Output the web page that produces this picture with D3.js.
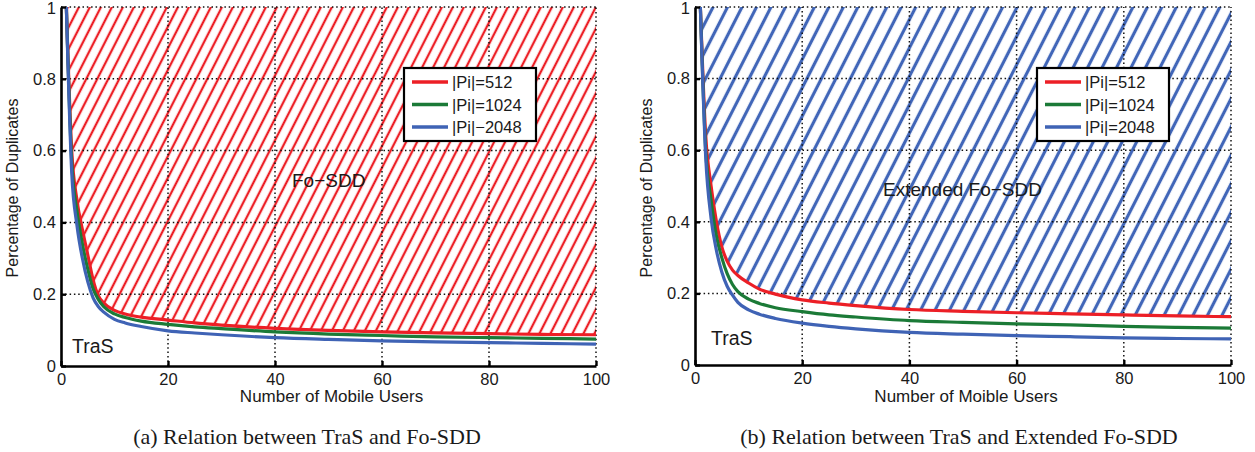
<!DOCTYPE html>
<html>
<head>
<meta charset="utf-8">
<script src="https://cdn.jsdelivr.net/npm/d3@7"></script>
<style>
body { margin: 0; background: #fff; }
text { font-family: "Liberation Sans", Arial, sans-serif; fill: #1a1a1a; }
.caption { font-family: "Liberation Serif", "Times New Roman", serif; }
</style>
</head>
<body>
<script>
// x positions (number of mobile users) where values were read
var users = [1, 2, 3, 4, 5, 6, 7, 8, 10, 12, 15, 20, 25, 30, 40, 50, 60, 70, 80, 90, 100];

// (a) TraS vs Fo-SDD
var aPi512  = [1, 0.60, 0.46, 0.38, 0.31, 0.24, 0.195, 0.175, 0.155, 0.145, 0.136, 0.128, 0.12, 0.114, 0.105, 0.099, 0.095, 0.092, 0.09, 0.088, 0.087];
var aPi1024 = [1, 0.57, 0.43, 0.34, 0.27, 0.215, 0.185, 0.165, 0.145, 0.135, 0.125, 0.116, 0.109, 0.104, 0.095, 0.089, 0.085, 0.081, 0.079, 0.077, 0.075];
var aPi2048 = [1, 0.54, 0.39, 0.30, 0.235, 0.19, 0.165, 0.15, 0.13, 0.12, 0.11, 0.098, 0.092, 0.087, 0.079, 0.074, 0.07, 0.067, 0.065, 0.063, 0.061];

// (b) TraS vs Extended Fo-SDD
var bPi512  = [1, 0.64, 0.50, 0.40, 0.33, 0.29, 0.265, 0.25, 0.229, 0.212, 0.198, 0.182, 0.173, 0.166, 0.155, 0.15, 0.146, 0.143, 0.14, 0.137, 0.135];
var bPi1024 = [1, 0.60, 0.46, 0.36, 0.30, 0.255, 0.225, 0.205, 0.184, 0.172, 0.16, 0.149, 0.14, 0.134, 0.124, 0.119, 0.115, 0.112, 0.108, 0.105, 0.103];
var bPi2048 = [1, 0.58, 0.41, 0.32, 0.26, 0.22, 0.195, 0.175, 0.154, 0.142, 0.13, 0.117, 0.108, 0.101, 0.091, 0.086, 0.082, 0.079, 0.076, 0.074, 0.073];

var legendA = ["|Pi|=512", "|Pi|=1024", "|Pi|\u22122048"];
var legendB = ["|Pi|=512", "|Pi|=1024", "|Pi|=2048"];
var xTicks = [0, 20, 40, 60, 80, 100];
var yTicks = [0, 0.2, 0.4, 0.6, 0.8, 1];

var colors = ["#ec1f26", "#1b7a37", "#3f63b5"];

var svg = d3.select("body").append("svg")
	.attr("width", 1255)
	.attr("height", 452);

var defs = svg.append("defs");

function makeHatch(id, color, spacing, width){
	var p = defs.append("pattern")
		.attr("id", id)
		.attr("patternUnits", "userSpaceOnUse")
		.attr("width", spacing)
		.attr("height", 20)
		.attr("patternTransform", "rotate(27)");
	p.append("line")
		.attr("x1", spacing / 2).attr("x2", spacing / 2)
		.attr("y1", -2).attr("y2", 22)
		.attr("stroke", color)
		.attr("stroke-width", width);
}
makeHatch("hatchRed", "#ec1f26", 9.8, 2.3);
makeHatch("hatchBlue", "#4166b8", 12.9, 3.2);

function drawPanel(o){
	var x = d3.scaleLinear().domain([0, 100]).range([o.left, o.right]);
	var y = d3.scaleLinear().domain([0, 1]).range([o.bottom, o.top]);
	var g = svg.append("g");

	// hatched region above the |Pi|=512 curve
	var area = d3.area()
		.x(function(d){ return x(d[0]); })
		.y0(y(1))
		.y1(function(d){ return y(d[1]); })
		.curve(d3.curveMonotoneX);
	g.append("path")
		.datum(users.map(function(u, i){ return [u, o.series[0][i]]; }))
		.attr("d", area)
		.attr("fill", "url(#" + o.hatch + ")");

	// dotted grid
	g.selectAll(".vgrid")
		.data(xTicks.slice(1))
		.enter().append("line")
		.attr("x1", function(d){ return x(d); })
		.attr("x2", function(d){ return x(d); })
		.attr("y1", y(0)).attr("y2", y(1))
		.attr("stroke", "#111")
		.attr("stroke-width", 1.5)
		.attr("stroke-dasharray", "1.5,2.8");
	g.selectAll(".hgrid")
		.data(yTicks.slice(1))
		.enter().append("line")
		.attr("x1", x(0)).attr("x2", x(100))
		.attr("y1", function(d){ return y(d); })
		.attr("y2", function(d){ return y(d); })
		.attr("stroke", "#111")
		.attr("stroke-width", 1.5)
		.attr("stroke-dasharray", "1.5,2.8");

	// curves
	var line = d3.line()
		.x(function(d){ return x(d[0]); })
		.y(function(d){ return y(d[1]); })
		.curve(d3.curveMonotoneX);
	o.series.forEach(function(s, k){
		g.append("path")
			.datum(users.map(function(u, i){ return [u, s[i]]; }))
			.attr("d", line)
			.attr("fill", "none")
			.attr("stroke", colors[k])
			.attr("stroke-width", 3.2)
			.attr("stroke-linejoin", "round");
	});

	// axes, matlab style: inward ticks, no box
	var xAxis = d3.axisBottom(x).tickValues(xTicks).tickSizeInner(-5).tickSizeOuter(0).tickPadding(9);
	var yAxis = d3.axisLeft(y).tickValues(yTicks).tickSizeInner(-5).tickSizeOuter(0).tickPadding(9)
		.tickFormat(function(d){ return d === 0 || d === 1 ? d3.format("d")(d) : d3.format(".1f")(d); });

	var gx = g.append("g").attr("transform", "translate(0," + y(0) + ")").call(xAxis);
	var gy = g.append("g").attr("transform", "translate(" + x(0) + ",0)").call(yAxis);
	[gx, gy].forEach(function(ax){
		ax.select(".domain").attr("stroke", "#000").attr("stroke-width", 2.6);
		ax.selectAll(".tick line").attr("stroke", "#000").attr("stroke-width", 2.4);
		ax.selectAll(".tick text").style("font-size", "16.5px").attr("fill", "#1a1a1a");
	});
	gx.selectAll(".tick text").attr("dy", "0.6em");
	gy.selectAll(".tick text").attr("dx", "4px")
		.attr("dy", function(d){ return d === 1 ? "0.42em" : "0.32em"; });

	// axis titles
	g.append("text")
		.attr("x", (o.left + o.right) / 2 + 3)
		.attr("y", 402)
		.attr("text-anchor", "middle")
		.style("font-size", "17px")
		.text(o.xLabel);
	g.append("text")
		.attr("transform", "translate(" + (o.left - 43) + ",188) rotate(-90)")
		.attr("text-anchor", "middle")
		.style("font-size", "16px")
		.text("Percentage of Duplicates");

	// region labels
	g.append("text")
		.attr("x", o.regionX).attr("y", o.regionY)
		.style("font-size", "19px")
		.text(o.regionLabel);
	g.append("text")
		.attr("x", o.trasX).attr("y", o.trasY)
		.style("font-size", "19.5px")
		.text("TraS");

	// legend
	var lg = g.append("g").attr("transform", "translate(" + o.legendX + ",68)");
	lg.append("rect")
		.attr("width", 132).attr("height", 73)
		.attr("fill", "#fff")
		.attr("stroke", "#000")
		.attr("stroke-width", 2.2);
	o.legend.forEach(function(t, k){
		var ly = 14 + k * 22.5;
		lg.append("line")
			.attr("x1", 8).attr("x2", 44)
			.attr("y1", ly).attr("y2", ly)
			.attr("stroke", colors[k])
			.attr("stroke-width", 3.5);
		lg.append("text")
			.attr("x", 48).attr("y", ly + 6)
			.style("font-size", "16.5px")
			.text(t);
	});

	// caption
	svg.append("text")
		.attr("class", "caption")
		.attr("x", o.captionX).attr("y", 444)
		.attr("text-anchor", "middle")
		.style("font-size", "22px")
		.text(o.caption);
}

drawPanel({
	left: 61, right: 596, top: 7, bottom: 366,
	series: [aPi512, aPi1024, aPi2048],
	hatch: "hatchRed",
	xLabel: "Number of Mobile Users",
	regionLabel: "Fo\u2212SDD", regionX: 292, regionY: 187,
	trasX: 72, trasY: 353,
	legend: legendA, legendX: 404,
	caption: "(a) Relation between TraS and Fo-SDD", captionX: 307
});

drawPanel({
	left: 695, right: 1231, top: 7, bottom: 365,
	series: [bPi512, bPi1024, bPi2048],
	hatch: "hatchBlue",
	xLabel: "Number of Moible Users",
	regionLabel: "Extended Fo\u2212SDD", regionX: 883, regionY: 196,
	trasX: 711, trasY: 345,
	legend: legendB, legendX: 1037,
	caption: "(b) Relation between TraS and Extended Fo-SDD", captionX: 959
});
</script>
</body>
</html>
